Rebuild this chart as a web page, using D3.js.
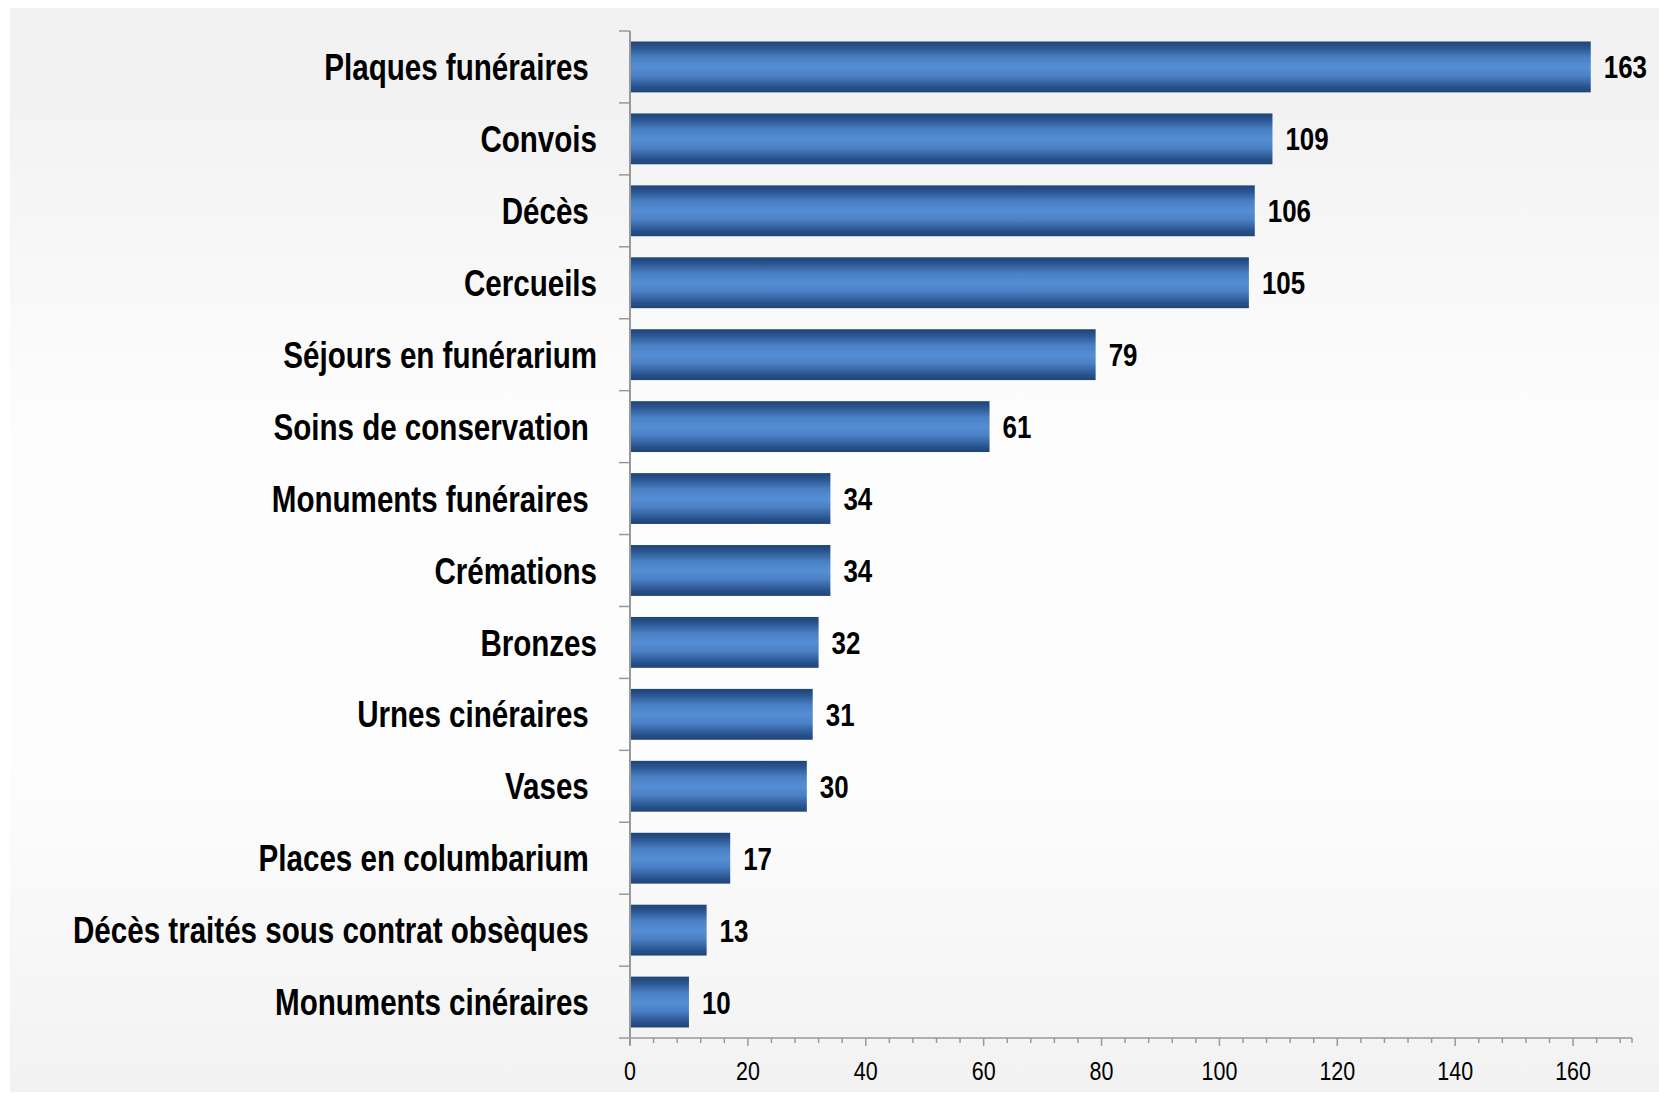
<!DOCTYPE html>
<html>
<head>
<meta charset="utf-8">
<script src="https://cdn.jsdelivr.net/npm/d3@7"></script>
<style>
  html, body { margin: 0; padding: 0; background: #fff; }
  .lbl { font-family: "Liberation Sans", Arial, sans-serif; fill: #000; }
  .catLbl { font-size: 36.5px; font-weight: bold; white-space: pre; }
  .valLbl { font-size: 32px; font-weight: bold; }
  .tickLbl { font-size: 26.5px; }
</style>
</head>
<body>
<div class="chart"></div>
<script>
"use strict";
// categories (trailing spaces are in the source labels)
var categories = ["Plaques funéraires ", "Convois", "Décès ", "Cercueils", "Séjours en funérarium",
  "Soins de conservation ", "Monuments funéraires ", "Crémations", "Bronzes", "Urnes cinéraires ",
  "Vases ", "Places en columbarium ", "Décès traités sous contrat obsèques ", "Monuments cinéraires "];
var values = [163, 109, 106, 105, 79, 61, 34, 34, 32, 31, 30, 17, 13, 10];
var xTicks = [0, 20, 40, 60, 80, 100, 120, 140, 160];
var xMax = 170;

var width = 1659, height = 1093;
var margin = { top: 31, right: 27, bottom: 55, left: 630 };
var narrow = 0.81; // no narrow font installed, squeeze the regular one

var svg = d3.select(".chart").append("svg")
  .attr("width", width)
  .attr("height", height);

var defs = svg.append("defs");
var bg = defs.append("linearGradient").attr("id", "bgGrad")
  .attr("x1", 0).attr("y1", 0).attr("x2", 0).attr("y2", 1);
[[0, "#f2f2f2"], [0.08, "#f2f2f2"], [0.39, "#fdfdfd"], [0.70, "#fdfdfd"], [1, "#f2f2f2"]].forEach(function(s){
  bg.append("stop").attr("offset", s[0]).attr("stop-color", s[1]);
});
var barGrad = defs.append("linearGradient").attr("id", "barGrad")
  .attr("x1", 0).attr("y1", 0).attr("x2", 0).attr("y2", 1);
[[0, "#1f4477"], [0.12, "#2a5590"], [0.32, "#4a80c4"], [0.5, "#558ed5"], [0.68, "#4a80c4"], [0.88, "#2a5590"], [1, "#1f4477"]].forEach(function(s){
  barGrad.append("stop").attr("offset", s[0]).attr("stop-color", s[1]);
});

//background
svg.append("rect")
  .attr("x", 10).attr("y", 8)
  .attr("width", width - 10).attr("height", height - 9)
  .style("fill", "url(#bgGrad)");

var x = d3.scaleLinear().domain([0, xMax]).range([margin.left, width - margin.right]);
var y = d3.scaleBand().domain(categories)
  .range([margin.top, height - margin.bottom])
  .paddingInner(0.293).paddingOuter(0.146);

var plotBottom = height - margin.bottom;

function place(px, py){
  return "translate(" + px + "," + py + ") scale(" + narrow + ",1)";
}

//bars
svg.append("g").selectAll(".bar")
  .data(values).enter().append("rect")
  .attr("class", "bar")
  .attr("x", x(0))
  .attr("y", function(d, i){ return y(categories[i]); })
  .attr("width", function(d){ return x(d) - x(0); })
  .attr("height", y.bandwidth())
  .style("fill", "url(#barGrad)");

//value labels
svg.append("g").selectAll(".valLbl")
  .data(values).enter().append("text")
  .attr("class", "lbl valLbl")
  .attr("transform", function(d, i){ return place(x(d) + 13, y(categories[i]) + y.bandwidth() / 2); })
  .attr("dy", "0.36em")
  .text(function(d){ return d; });

//category labels
svg.append("g").selectAll(".catLbl")
  .data(categories).enter().append("text")
  .attr("class", "lbl catLbl")
  .attr("transform", function(d){ return place(597, y(d) + y.bandwidth() / 2); })
  .attr("dy", "0.36em")
  .style("text-anchor", "end")
  .text(function(d){ return d; });

//y axis with ticks at category boundaries
var step = y.step();
var yBounds = d3.range(categories.length + 1).map(function(i){ return margin.top + i * step; });
svg.append("g").selectAll(".yTick")
  .data(yBounds).enter().append("line")
  .attr("x1", x(0) - 11).attr("x2", x(0))
  .attr("y1", function(d){ return d; }).attr("y2", function(d){ return d; })
  .style("stroke", "#999").style("stroke-width", 1.5);
svg.append("line")
  .attr("x1", x(0)).attr("x2", x(0))
  .attr("y1", margin.top).attr("y2", plotBottom + 7)
  .style("stroke", "#999").style("stroke-width", 2);

//x axis
svg.append("line")
  .attr("x1", x(0)).attr("x2", x(xMax))
  .attr("y1", plotBottom).attr("y2", plotBottom)
  .style("stroke", "#999").style("stroke-width", 1.5);
var minor = d3.range(0, xMax, 4).concat([xMax]);
svg.append("g").selectAll(".xTick")
  .data(minor).enter().append("line")
  .attr("x1", function(d){ return x(d); }).attr("x2", function(d){ return x(d); })
  .attr("y1", plotBottom)
  .attr("y2", function(d){ return plotBottom + (d % 20 === 0 ? 8 : 5); })
  .style("stroke", "#999").style("stroke-width", 1.5);
svg.append("g").selectAll(".tickLbl")
  .data(xTicks).enter().append("text")
  .attr("class", "lbl tickLbl")
  .attr("transform", function(d){ return place(x(d), plotBottom + 42); })
  .style("text-anchor", "middle")
  .text(function(d){ return d; });
</script>
</body>
</html>
